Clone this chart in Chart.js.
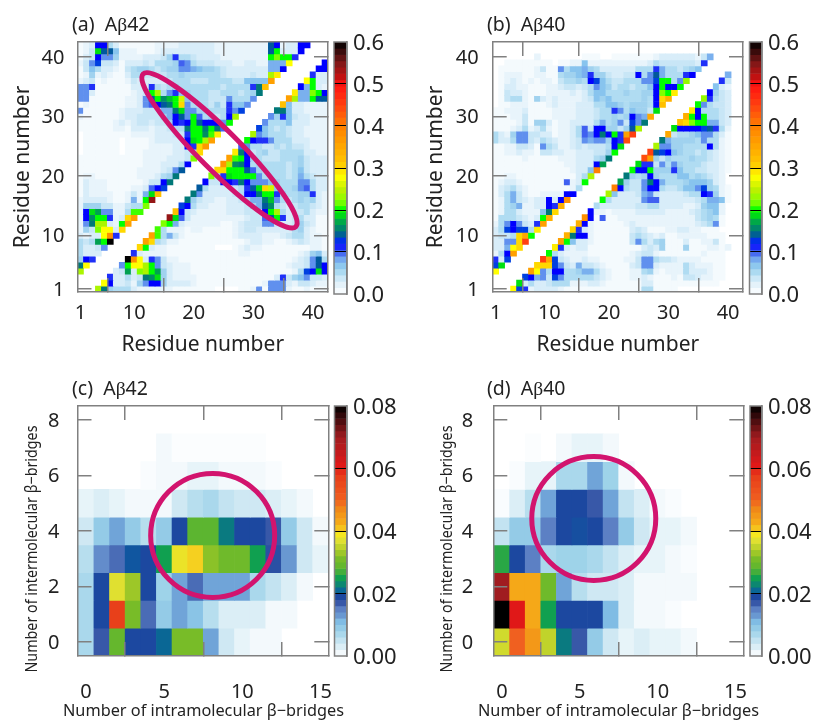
<!DOCTYPE html>
<html>
<head>
<meta charset="utf-8">
<script src="https://cdn.jsdelivr.net/npm/chart.js@4"></script>
<style>
  html, body { margin: 0; padding: 0; background: #fff; }
  canvas { position: absolute; }
  .tag { position: absolute; font: 19.5px "Noto Sans", sans-serif; color: #222; white-space: pre; line-height: 24px; }
  .tag i { font-family: "Liberation Serif", serif; font-style: normal; }
</style>
</head>
<body>
<canvas id="mapA" width="332" height="362" style="left:0px;top:0px"></canvas>
<canvas id="barA" width="70" height="280" style="left:332px;top:22px"></canvas>
<canvas id="mapB" width="330" height="362" style="left:417px;top:0px"></canvas>
<canvas id="barB" width="62" height="280" style="left:747px;top:22px"></canvas>
<canvas id="mapC" width="350" height="323" style="left:0px;top:398px"></canvas>
<canvas id="barC" width="70" height="280" style="left:332px;top:386px"></canvas>
<canvas id="mapD" width="350" height="323" style="left:417px;top:398px"></canvas>
<canvas id="barD" width="67" height="280" style="left:747px;top:386px"></canvas>
<div class="tag" style="left:72px;top:12px">(a)  A<i>β</i>42</div>
<div class="tag" style="left:487px;top:12px">(b)  A<i>β</i>40</div>
<div class="tag" style="left:72px;top:376px">(c)  A<i>β</i>42</div>
<div class="tag" style="left:487px;top:376px">(d)  A<i>β</i>40</div>
<script>
// contact maps, in units of 0.01. Only one half is kept since the map is symmetric:
// row n holds residue n against residues n+3 ... 42
const contactsA42 = [
  [24,15,6,5,5,5,3,2,2,2,2,2,2,1,1,1,1,1,1,1,0,0,0,0,1,1,2,9,1,9,9,9,2,1,1,2,1,1,1],
  [28,12,3,3,4,2,6,9,12,12,6,3,3,3,3,2,1,1,1,1,1,1,1,1,1,1,1,2,9,9,9,3,2,4,4,3,2,2],
  [11,3,3,5,3,4,15,16,19,6,3,2,2,2,2,1,1,1,1,1,1,1,1,1,1,1,1,1,3,11,4,6,7,9,4,4,3],
  [3,4,17,3,22,24,20,17,6,3,2,2,2,1,1,1,1,1,1,1,1,1,1,1,1,1,1,1,1,1,2,5,13,12,19,12],
  [9,20,28,28,24,20,9,4,3,2,2,2,1,1,1,1,1,1,1,1,1,1,1,1,1,1,1,1,2,3,3,4,9,14,12],
  [60,38,28,3,11,9,4,2,2,1,1,1,1,1,1,1,1,1,1,1,1,1,1,1,1,1,1,1,2,3,4,9,14,5],
  [11,3,2,2,2,2,1,1,1,1,1,1,1,1,1,1,1,1,2,2,1,1,1,1,1,1,1,1,2,3,6,7,3],
  [30,20,3,2,2,1,1,1,1,1,1,1,1,0,0,0,1,2,3,2,2,1,1,1,1,1,1,1,1,2,2,1],
  [36,30,5,4,2,2,1,1,1,1,1,1,1,1,1,1,1,2,3,3,2,2,1,1,2,3,4,3,2,2,1],
  [36,21,5,8,4,2,1,1,1,1,1,1,1,1,2,3,3,3,3,2,2,2,3,4,5,5,3,2,2,1],
  [21,5,2,2,2,1,2,2,1,1,1,1,1,2,3,4,4,3,3,3,3,3,3,5,6,3,2,1,1],
  [22,20,8,3,2,2,2,2,2,2,1,1,2,3,4,4,4,9,9,4,3,3,4,6,4,3,1,1],
  [54,19,10,4,2,2,2,2,2,2,2,2,2,3,4,4,10,14,20,11,3,4,5,3,3,1,1],
  [32,12,4,3,2,2,2,2,2,3,3,3,4,4,4,12,20,24,5,3,4,4,5,3,2,2],
  [13,12,5,3,3,2,2,2,3,3,3,4,6,8,14,16,5,4,3,4,5,5,4,3,2],
  [15,6,4,3,3,2,2,3,3,4,6,8,8,15,18,9,5,4,5,6,5,6,3,2],
  [15,9,3,3,3,3,3,4,5,12,12,15,20,20,11,6,5,5,6,6,11,3,2],
  [14,5,3,3,3,3,4,5,11,14,19,30,26,7,5,5,6,9,10,5,3,3],
  [12,4,4,12,12,11,15,12,9,9,9,7,6,5,5,5,9,9,5,3,3],
  [22,5,11,19,20,20,20,20,9,5,5,5,5,4,5,8,5,4,3,3],
  [30,30,20,20,20,14,10,6,5,5,5,5,4,5,7,4,3,3,3],
  [37,24,16,15,12,5,6,5,5,5,5,4,5,6,4,3,3,3],
  [36,21,20,12,6,5,4,4,4,5,5,5,6,4,3,3,3],
  [29,15,12,4,5,6,4,4,5,5,5,5,3,3,2,2],
  [10,9,5,5,4,4,5,4,5,4,4,3,2,2,2],
  [20,12,11,11,9,5,5,5,3,3,3,2,2,2],
  [24,9,7,5,5,5,4,3,3,2,2,2,2],
  [13,7,5,4,5,4,3,3,2,2,2,2],
  [9,5,5,5,7,3,3,3,2,2,2,3],
  [9,6,11,7,4,3,3,2,2,2],
  [15,15,7,3,3,2,2,2,2],
  [32,7,3,3,2,2,2,2],
  [36,24,8,8,20,14,14],
  [29,8,8,22,20,12],
  [12,8,20,3,2],
  [28,20,3,3],
  [11,3,3],
  [12,12],
  [12]
];
const contactsA40 = [
  [28,13,11,2,3,3,3,3,2,1,1,1,1,1,1,1,1,1,1,1,1,1,5,5,1,1,1,1,0,0,0,0,0,0,0,0,0,0,0],
  [19,3,5,3,3,4,5,5,5,2,2,2,3,3,2,1,1,1,1,1,1,3,3,1,1,1,1,1,1,1,1,1,1,1,0,0,0,0],
  [13,12,8,9,4,13,9,5,5,5,5,5,4,3,2,1,1,1,2,2,3,2,1,1,1,2,1,4,4,3,2,2,1,1,0,0,0],
  [36,28,9,5,12,12,5,5,6,8,8,5,3,2,1,1,1,2,2,5,6,2,1,2,2,2,5,3,3,3,2,1,1,0,0,0],
  [30,30,30,13,9,4,3,8,4,4,3,2,1,1,1,1,3,4,9,9,3,2,2,2,2,5,3,2,2,2,1,1,0,0,0],
  [45,35,13,4,3,2,2,3,2,2,1,1,1,1,2,2,4,9,9,5,4,4,3,2,2,2,2,1,1,1,1,0,0,0],
  [20,5,3,2,2,2,2,1,1,1,1,1,1,1,2,3,4,4,2,1,1,1,1,1,1,1,2,1,1,1,0,0,0],
  [29,11,3,2,3,3,1,1,1,1,1,1,1,1,1,3,4,3,6,1,1,1,6,1,1,1,2,2,1,2,0,0],
  [36,20,7,3,3,2,1,1,1,1,1,1,4,9,5,3,5,6,1,1,1,3,1,1,2,2,4,1,0,0,0],
  [34,15,12,12,2,1,1,1,1,1,1,4,5,4,3,2,3,1,1,2,2,2,2,2,1,1,1,0,0,0],
  [30,11,3,2,1,1,1,1,1,1,3,4,3,1,1,1,2,2,3,3,2,2,1,1,1,0,0,0],
  [34,12,2,1,1,1,1,1,2,3,2,2,2,2,2,2,2,2,2,2,3,4,5,9,1,0,0,0],
  [38,12,1,10,1,1,2,2,2,2,2,2,2,2,2,2,2,2,2,4,5,6,5,1,0,0,0],
  [12,2,2,1,2,2,2,2,3,3,3,3,3,2,2,2,2,3,4,5,6,7,2,0,0,0],
  [5,3,3,3,3,3,3,4,4,5,5,3,3,3,3,2,2,3,6,7,7,2,0,0,0],
  [20,5,3,3,3,3,3,9,10,10,3,3,3,3,3,3,4,5,8,8,7,1,0,0],
  [24,7,3,3,3,4,8,9,4,3,3,3,3,4,5,5,12,11,6,2,1,0,0],
  [40,12,5,4,4,9,12,12,5,4,4,5,7,7,9,13,6,5,2,1,0,0],
  [17,6,4,4,9,15,12,8,5,5,5,6,7,7,7,6,3,2,0,0,0],
  [15,6,5,6,12,6,5,5,5,7,7,5,6,5,4,3,2,0,0,0],
  [20,12,12,20,6,6,6,11,7,5,5,4,4,3,3,2,1,0,0],
  [19,11,11,4,9,5,9,6,5,5,5,4,3,3,2,1,0,0],
  [44,36,6,4,6,5,5,5,6,5,5,4,3,2,1,0,0],
  [45,14,13,12,7,6,5,5,4,5,4,3,2,1,0,0],
  [24,9,9,6,6,5,5,5,5,12,5,2,1,0,0],
  [15,8,6,6,6,6,5,9,5,5,2,1,0,0],
  [35,4,5,5,6,7,9,9,5,3,1,0,0],
  [19,12,12,12,12,13,14,11,5,2,0,0],
  [32,30,22,20,20,8,8,4,3,0,0],
  [34,20,12,20,5,5,4,3,0,0],
  [29,12,5,5,5,4,3,0,0],
  [20,9,5,4,4,3,0,0],
  [23,11,5,4,3,0,0],
  [12,6,4,3,0,0],
  [7,3,2,0,0],
  [11,4,0,0],
  [8,0,0],
  [0,0],
  [0]
];

// bridge maps, in units of 0.001. Row 0 is 0 intermolecular bridges, columns are 0..15 intramolecular
const bridgesA42 = [
  [7,17,29,19,19,21,31,31,12,4,2,1,1,0,0,0],
  [7,19,57,31,16,9,12,10,6,3,3,3,1,1,0,0],
  [7,19,37,33,19,8,12,16,12,12,12,7,5,3,1,0],
  [6,14,16,20,19,25,38,40,32,30,30,25,18,13,4,2],
  [4,9,12,9,6,9,19,28,28,22,19,19,17,9,4,1],
  [2,3,2,1,1,1,4,6,7,5,4,4,3,2,1,0],
  [0,0,0,0,0.5,1,1,2,2,1,1,1,0.5,0,0,0],
  [0,0,0,0,0,1,0.3,0.3,0.3,0.3,0.3,0.3,0,0,0,0],
  [0,0,0,0,0,0,0,0,0,0,0,0,0,0,0,0]
];
const bridgesA40 = [
  [36,50,45,35,22,17,9,4,2,3,2,2,1,0,0,0],
  [80,61,43,25,19,19,19,11,3,1,1,0.5,0,0,0,0],
  [70,43,43,30,12,6,4,4,3,1,1,1,1,0,0,0],
  [26,19,15,7,8,8,7,5,3,2,2,1,0.5,0,0,0],
  [5,9,9,15,19,19.5,19,15,9,4,2,2,1,0,0,0],
  [0.5,3,6,12,19,19,17,12,5,3,1,0.5,0,0,0,0],
  [0,0.5,2,2,7,7,12,8,1,0,0,0,0,0,0,0],
  [0,0,0.3,0,1,2,2,1,0,0,0,0,0,0,0,0],
  [0,0,0,0,0,0,0,0,0,0,0,0,0,0,0,0]
];

const residueTicks = [1, 10, 20, 30, 40];
const intraTicks = [0, 5, 10, 15];
const interTicks = [0, 2, 4, 6, 8];
const contactScale = [0, 0.1, 0.2, 0.3, 0.4, 0.5, 0.6];
const bridgeScale = [0, 0.02, 0.04, 0.06, 0.08];

// colour ramps as [value, colour]
const contactRamp = [
  [0,'#ffffff'],[.02,'#e8f4fb'],[.04,'#c8e6f6'],[.05,'#b0dcf2'],[.06,'#a0d2ef'],[.07,'#88c4ee'],[.08,'#7ab0ee'],
  [.09,'#6090ee'],[.10,'#4060f0'],[.11,'#1f30f8'],[.12,'#0000ff'],[.13,'#0040e0'],[.14,'#00589c'],[.15,'#007878'],
  [.17,'#00a050'],[.19,'#00e010'],[.20,'#00ff00'],[.22,'#80ff00'],[.25,'#c0f000'],[.28,'#ffff00'],[.30,'#ffd800'],
  [.32,'#ffc000'],[.36,'#ffa000'],[.40,'#ff8000'],[.45,'#ff4010'],[.50,'#ff1010'],[.51,'#d01010'],[.55,'#801818'],[.60,'#000000']
];
const bridgeRamp = [
  [0,'#ffffff'],[.004,'#cfe8f3'],[.008,'#9ed3e9'],[.011,'#80bce4'],[.012,'#70a4d8'],[.015,'#5c80c4'],[.017,'#3858a8'],
  [.019,'#1c48a0'],[.0205,'#0a5da0'],[.022,'#0a7a80'],[.025,'#10a050'],[.028,'#5cb530'],[.031,'#78bc28'],[.034,'#b0cd28'],
  [.037,'#e0e030'],[.039,'#f5e620'],[.04,'#f5d020'],[.043,'#f5a818'],[.047,'#f08818'],[.05,'#f06020'],[.057,'#e8401a'],
  [.061,'#e01818'],[.07,'#a01c20'],[.08,'#000000']
];

function hexRgb(h) { return [1, 3, 5].map(i => parseInt(h.substr(i, 2), 16)); }

function rampColor(ramp, v) {
  for (let i = 1; i < ramp.length; i++) {
    if (v <= ramp[i][0]) {
      const t = (v - ramp[i-1][0]) / (ramp[i][0] - ramp[i-1][0]);
      const a = hexRgb(ramp[i-1][1]), b = hexRgb(ramp[i][1]);
      return 'rgb(' + a.map((c, k) => Math.round(c + (b[k] - c) * t)).join(',') + ')';
    }
  }
  return ramp[ramp.length - 1][1];
}

function contactCells(half) {
  const cells = [];
  half.forEach((row, n) => row.forEach((val, k) => {
    if (!val) return;
    const i = n + 1, j = n + 4 + k;
    cells.push({x: j, y: [i - .5, i + .5], v: val / 100});
    cells.push({x: i, y: [j - .5, j + .5], v: val / 100});
  }));
  return cells;
}

function bridgeCells(rows) {
  const cells = [];
  rows.forEach((row, y) => row.forEach((val, x) => {
    if (val) cells.push({x: x, y: [y - .5, y + .5], v: val / 1000});
  }));
  return cells;
}

const FONT = '"Noto Sans", sans-serif';
const EDGE = '#808080';

// magenta ring over a map, placed through the scales
Chart.register({
  id: 'ring',
  afterDraw(chart, args, o) {
    if (!o.at) return;
    const c = chart.ctx;
    c.save();
    c.strokeStyle = '#d2146e';
    c.lineWidth = 5;
    c.beginPath();
    c.ellipse(chart.scales.x.getPixelForValue(o.at[0]), chart.scales.y.getPixelForValue(o.at[1]),
      o.rx, o.ry, o.angle || 0, 0, Math.PI * 2);
    c.stroke();
    c.restore();
  }
});

// long axis titles: the scale title would be squeezed to the plot size, so these go on free
Chart.register({
  id: 'longTitles',
  afterDraw(chart, args, o) {
    if (!o.list) return;
    const c = chart.ctx;
    o.list.forEach(t => {
      c.save();
      c.translate(t.x, t.y);
      c.rotate(t.turn || 0);
      c.font = t.size + 'px ' + FONT;
      c.fillStyle = '#222';
      c.textAlign = 'center';
      c.textBaseline = 'middle';
      c.fillText(t.text, 0, 0, t.span);
      c.restore();
    });
  }
});

// grey frame around a colour bar
Chart.register({
  id: 'barFrame',
  afterDraw(chart, args, o) {
    if (!o.on) return;
    const a = chart.chartArea;
    chart.ctx.save();
    chart.ctx.strokeStyle = EDGE;
    chart.ctx.lineWidth = 1.5;
    chart.ctx.strokeRect(a.left, a.top, a.right - a.left, a.bottom - a.top);
    chart.ctx.restore();
  }
});

function fixedTicks(vals) { return s => { s.ticks = vals.map(v => ({value: v})); }; }

function noPad(s) { s.paddingLeft = s.paddingRight = s.paddingTop = s.paddingBottom = 0; }

function markAxis(pos, range, vals, size, extra) {
  const horizontal = pos === 'top' || pos === 'bottom';
  const shown = pos === 'left' || pos === 'bottom';
  return Object.assign({
    type: 'linear', position: pos, min: range[0], max: range[1], offset: false,
    afterBuildTicks: fixedTicks(vals),
    grid: {drawOnChartArea: false, tickLength: -14, color: EDGE, lineWidth: 1.5, z: 1},
    border: {color: EDGE, width: 1.5, z: 1},
    ticks: {display: shown, autoSkip: false, maxRotation: 0, padding: size, color: '#222',
      labelOffset: horizontal ? 0 : 1, font: {family: FONT, size: 20}, callback: v => v},
    afterFit: s => { noPad(s); if (horizontal) s.height = 0; else s.width = 0; }
  }, extra);
}

function drawMap(id, p) {
  const xOpts = {afterFit: s => { noPad(s); s.height = p.h - p.box[3]; }};
  const yOpts = {afterFit: s => { noPad(s); s.width = p.box[0]; }};
  if (p.xLabel) xOpts.title = {display: true, text: p.xLabel, color: '#222', font: {family: FONT, size: 21}, padding: {bottom: p.xPad, top: 0}};
  if (p.yLabel) yOpts.title = {display: true, text: p.yLabel, color: '#222', font: {family: FONT, size: 21}, padding: {top: p.yPad, bottom: 0}};
  new Chart(document.getElementById(id), {
    type: 'bar',
    data: {datasets: [{
      data: p.cells,
      categoryPercentage: 1, barPercentage: 1, grouped: false,
      backgroundColor: ctx => rampColor(p.ramp, ctx.raw.v)
    }]},
    options: {
      responsive: false, animation: false,
      layout: {padding: {top: p.box[1], right: p.w - p.box[2]}},
      plugins: {legend: {display: false}, tooltip: {enabled: false}, ring: p.ring || {}, longTitles: {list: p.long}},
      scales: {
        x: markAxis('bottom', p.xr, p.xt, p.xGap, xOpts),
        y: markAxis('left', p.yr, p.yt, p.yGap, yOpts),
        xTop: markAxis('top', p.xr, p.xt, 0),
        yRight: markAxis('right', p.yr, p.yt, 0)
      }
    }
  });
}

function drawBar(id, p) {
  const steps = [];
  const n = 40;
  for (let i = 0; i < n; i++) steps.push({x: 0, y: [p.max * i / n, p.max * (i + 1) / n], v: p.max * (i + .5) / n});
  new Chart(document.getElementById(id), {
    type: 'bar',
    data: {datasets: [{
      data: steps, categoryPercentage: 1, barPercentage: 1, grouped: false,
      backgroundColor: ctx => rampColor(p.ramp, ctx.raw.v)
    }]},
    options: {
      responsive: false, animation: false,
      layout: {padding: {top: p.top, bottom: p.bottom, left: p.left, right: 0}},
      plugins: {legend: {display: false}, tooltip: {enabled: false}, barFrame: {on: true}},
      scales: {
        x: {type: 'linear', min: -.5, max: .5, display: false, offset: false},
        y: {
          type: 'linear', position: 'right', min: 0, max: p.max,
          afterBuildTicks: fixedTicks(p.ticks),
          grid: {color: ctx => (ctx.index === 0 || ctx.index === p.ticks.length - 1) ? 'rgba(0,0,0,0)' : '#000', lineWidth: 1, z: 1, drawTicks: false},
          border: {color: EDGE, width: 1.5, z: 1},
          ticks: {padding: 6, color: '#222', labelOffset: 2, font: {family: FONT, size: 22}, callback: v => v.toFixed(p.digits)},
          afterFit: s => { noPad(s); s.width = p.axisW; }
        }
      }
    }
  });
}

const RESIDUE = 'Residue number';
const INTRA = 'Number of intramolecular β−bridges';
const INTER = 'Number of intermolecular β−bridges';
const UP = -Math.PI / 2;

drawMap('mapA', {cells: contactCells(contactsA42), ramp: contactRamp, w: 332, h: 362, box: [77.5, 42, 328, 292],
  xr: [.5, 42.5], yr: [.5, 42.5], xt: residueTicks, yt: residueTicks, xGap: 23, yGap: 27,
  xLabel: RESIDUE, yLabel: RESIDUE, xPad: 4, yPad: 10,
  ring: {at: [24.3, 24.3], rx: 108, ry: 20, angle: Math.PI / 4}});
drawMap('mapB', {cells: contactCells(contactsA40), ramp: contactRamp, w: 330, h: 362, box: [75.7, 42, 326, 292],
  xr: [.5, 42.5], yr: [.5, 42.5], xt: residueTicks, yt: residueTicks, xGap: 23, yGap: 28,
  xLabel: RESIDUE, yLabel: RESIDUE, xPad: 4, yPad: 6});
drawMap('mapC', {cells: bridgeCells(bridgesA42), ramp: bridgeRamp, w: 350, h: 323, box: [77.5, 8, 328.3, 258],
  xr: [-.55, 15.5], yr: [-.5, 8.5], xt: intraTicks, yt: interTicks, xGap: 38, yGap: 32,
  long: [{text: INTRA, x: 203.5, y: 313, size: 16.3}, {text: INTER, x: 32, y: 151, size: 16, span: 247, turn: UP}],
  ring: {at: [8.1, 3.84], rx: 62, ry: 62}});
drawMap('mapD', {cells: bridgeCells(bridgesA40), ramp: bridgeRamp, w: 350, h: 323, box: [76.3, 8, 326.3, 258],
  xr: [-.55, 15.5], yr: [-.5, 8.5], xt: intraTicks, yt: interTicks, xGap: 38, yGap: 34,
  long: [{text: INTRA, x: 201.5, y: 313, size: 16.3}, {text: INTER, x: 30, y: 151, size: 16, span: 247, turn: UP}],
  ring: {at: [5.9, 4.45], rx: 62, ry: 62}});

drawBar('barA', {ramp: contactRamp, max: .6, ticks: contactScale, digits: 1, top: 20, bottom: 8, left: 2, axisW: 55});
drawBar('barB', {ramp: contactRamp, max: .6, ticks: contactScale, digits: 1, top: 20, bottom: 8, left: 2.5, axisW: 47});
drawBar('barC', {ramp: bridgeRamp, max: .08, ticks: bridgeScale, digits: 2, top: 20, bottom: 10, left: 2.5, axisW: 55});
drawBar('barD', {ramp: bridgeRamp, max: .08, ticks: bridgeScale, digits: 2, top: 20, bottom: 10, left: 3, axisW: 52});
</script>
</body>
</html>
